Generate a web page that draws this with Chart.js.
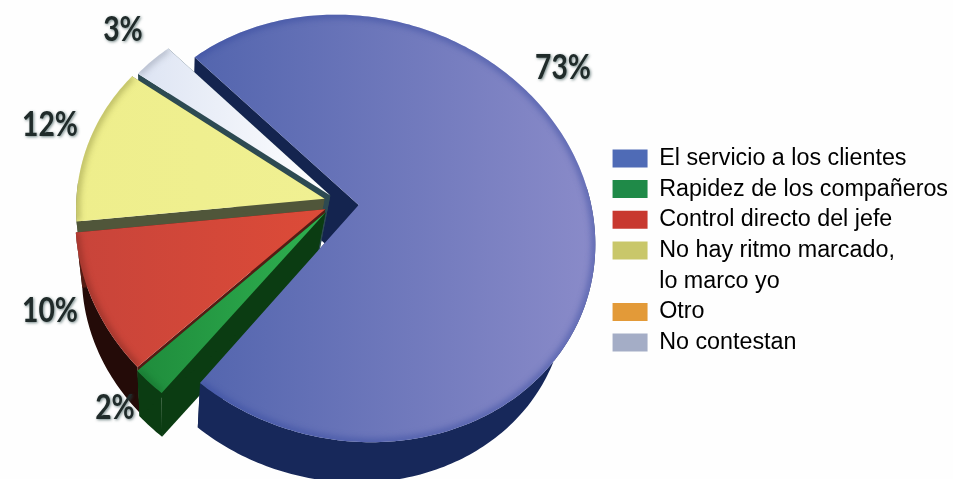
<!DOCTYPE html>
<html>
<head>
<meta charset="utf-8">
<title>Ritmo de trabajo</title>
<script src="https://cdn.jsdelivr.net/npm/chart.js@4"></script>
<style>
  html, body { margin: 0; padding: 0; background: #fefefe; }
  canvas { display: block; }
</style>
</head>
<body>
<canvas id="pieChart" width="953" height="479"></canvas>
<script>
const categories = ['El servicio a los clientes', 'Rapidez de los compañeros', 'Control directo del jefe', 'No hay ritmo marcado,', 'Otro', 'No contestan'];
const values = [73, 2, 10, 12, 0, 3];
const legendColors = ['#4f6bb6', '#1f8a48', '#c8382f', '#c9c76a', '#e39a38', '#a4adc6'];
const legendSecondLine = { 3: 'lo marco yo' };

// top face gradient [left, right], cut wall, rim wall, rim shading
const faceColors = [['#5365ae', '#8a8bc9'], ['#1f8c3c', '#2fb150'], ['#c8443a', '#dd4b38'], ['#eeee8c', '#f0f092'], ['#e39a38', '#e39a38'], ['#dde4f3', '#ffffff']];
const cutColors = ['#14244f', '#0b3c12', '#551c14', '#50563a', '#7a4f1a', '#2d4a52'];
const rimColors = ['#17285a', '#0b3c12', '#240b08', '#50563a', '#7a4f1a', '#2d4a52'];
const edgeColors = ['#34499f', '#146b2c', '#7a2820', '#8d8c3e', '#a06a20', '#8f97a8'];

// how far each slice sits from the pie centre, in radii
const sliceShift = [[0.14, 0], [0, 0.035], [0, 0.02], [0, -0.03], [0, 0], [0.025, -0.045]];
const labelAnchors = [[563, 68], [115, 408], [50, 311], [50, 125], null, [123, 30]];

// tilted disc seen in perspective, low=true gives the underside
function project(u, v, low) {
  const w = 1 - 0.11 * v + 0.03 * u;
  let x = (241.5 * u + 15 * v) / w;
  let y = 212 * v / w;
  if (low) {
    x = 0.93 * x - 11;
    y = 0.93 * y + 57;
  }
  return [325 + x, 205 + y];
}

function rimAngles(arc) {
  const list = [];
  const steps = Math.max(2, Math.ceil((arc.endAngle - arc.startAngle) / (Math.PI / 180)));
  for (let i = 0; i <= steps; i++) {
    list.push(arc.startAngle + (arc.endAngle - arc.startAngle) * i / steps);
  }
  return list;
}

function tracePath(ctx, pts) {
  ctx.beginPath();
  pts.forEach((p, i) => i ? ctx.lineTo(p[0], p[1]) : ctx.moveTo(p[0], p[1]));
}

function fillWall(ctx, line, color) {
  const top = line.map(p => project(p[0], p[1]));
  const low = line.map(p => project(p[0], p[1], true)).reverse();
  tracePath(ctx, top.concat(low));
  ctx.closePath();
  ctx.fillStyle = color;
  ctx.fill();
}

function sliceModel(arc, i) {
  const s = sliceShift[i];
  const angles = rimAngles(arc);
  return {
    apex: s,
    rim: angles.map(a => [s[0] + Math.cos(a), s[1] + Math.sin(a)]),
    angles: angles
  };
}

function drawCuts(ctx, m, i) {
  fillWall(ctx, [m.apex, m.rim[0]], cutColors[i]);
  fillWall(ctx, [m.apex, m.rim[m.rim.length - 1]], cutColors[i]);
}

function drawRimWall(ctx, m, i) {
  // only the part of the rim that faces the viewer
  const front = m.rim.filter((p, k) => Math.sin(m.angles[k]) > -0.1);
  if (front.length > 1) fillWall(ctx, front, rimColors[i]);
}

function drawFace(ctx, m, i) {
  const rimPts = m.rim.map(p => project(p[0], p[1]));
  const pts = [project(m.apex[0], m.apex[1])].concat(rimPts);
  const xs = pts.map(p => p[0]);
  const grad = ctx.createLinearGradient(Math.min(...xs), 0, Math.max(...xs), 0);
  const pair = faceColors[i];
  grad.addColorStop(0, pair[0]);
  grad.addColorStop(1, pair[1]);
  ctx.save();
  tracePath(ctx, pts);
  ctx.closePath();
  ctx.fillStyle = grad;
  ctx.fill();
  ctx.clip();
  // soft darker band along the outer edge
  ctx.filter = 'blur(3px)';
  ctx.globalAlpha = 0.55;
  tracePath(ctx, rimPts);
  ctx.strokeStyle = edgeColors[i];
  ctx.lineWidth = 7;
  ctx.stroke();
  ctx.restore();
}

const pie3d = {
  id: 'pie3d',
  beforeDatasetDraw(chart) {
    const ctx = chart.ctx;
    const arcs = chart.getDatasetMeta(0).data;
    const models = arcs.map((arc, i) => sliceModel(arc.getProps(['startAngle', 'endAngle'], true), i));
    ctx.save();
    // back to front: blue walls, small slices, blue front wall and face
    drawCuts(ctx, models[0], 0);
    [5, 3, 2, 1].forEach(i => {
      drawRimWall(ctx, models[i], i);
      drawCuts(ctx, models[i], i);
      drawFace(ctx, models[i], i);
    });
    drawRimWall(ctx, models[0], 0);
    drawFace(ctx, models[0], 0);
    ctx.restore();
    return false;
  },
  afterDatasetsDraw(chart) {
    const ctx = chart.ctx;
    ctx.font = 'bold 34px Lato';
    ctx.textAlign = 'center';
    ctx.textBaseline = 'middle';
    ctx.fillStyle = '#202b2a';
    ctx.shadowColor = 'rgba(40,70,70,0.65)';
    ctx.shadowBlur = 3;
    ctx.shadowOffsetX = 1;
    ctx.shadowOffsetY = 1;
    values.forEach((v, i) => {
      if (!labelAnchors[i]) return;
      ctx.save();
      ctx.translate(labelAnchors[i][0], labelAnchors[i][1]);
      ctx.scale(0.83, 1);
      ctx.fillText(v + '%', 0, 0);
      ctx.restore();
    });
    ctx.shadowColor = 'rgba(0,0,0,0)';
  }
};

function buildLegendItems() {
  const items = [];
  categories.forEach((name, i) => {
    items.push({ text: name, fillStyle: legendColors[i], strokeStyle: legendColors[i], lineWidth: 0, hidden: false, index: i });
    if (legendSecondLine[i]) {
      items.push({ text: legendSecondLine[i], fillStyle: 'rgba(0,0,0,0)', strokeStyle: 'rgba(0,0,0,0)', lineWidth: 0, hidden: false, index: i });
    }
  });
  return items;
}

new Chart(document.getElementById('pieChart'), {
  type: 'pie',
  plugins: [pie3d],
  data: {
    labels: categories,
    datasets: [{ data: values, backgroundColor: legendColors, borderWidth: 0 }]
  },
  options: {
    responsive: false,
    animation: false,
    rotation: -42,
    layout: { padding: { top: 22, right: -5, bottom: 0, left: 0 } },
    plugins: {
      tooltip: { enabled: false },
      legend: {
        position: 'right',
        labels: {
          boxWidth: 35,
          boxHeight: 18,
          padding: 7.4,
          color: '#111111',
          font: { family: 'Liberation Sans', size: 23.3 },
          generateLabels: buildLegendItems
        }
      }
    }
  }
});
</script>
</body>
</html>
